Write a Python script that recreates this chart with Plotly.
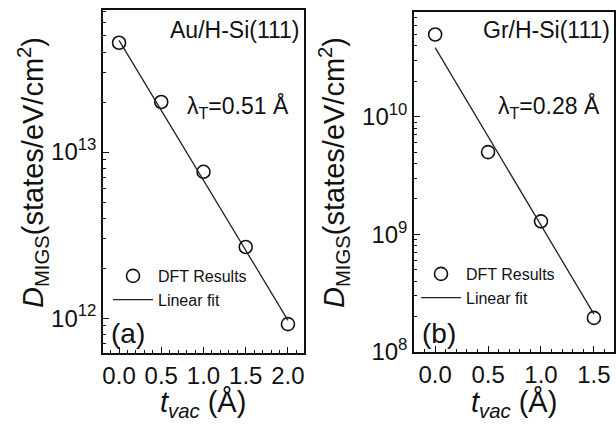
import plotly.graph_objects as go

# ---- data ----
t_au = [0.0, 0.5, 1.0, 1.5, 2.0]
d_au = [4.55e13, 2.0e13, 7.6e12, 2.68e12, 9.2e11]
fit_t_au = [0.0, 2.0]
fit_d_au = [4.7e13, 0.97e12]

t_gr = [0.0, 0.5, 1.0, 1.5]
d_gr = [5.0e10, 5.0e9, 1.29e9, 1.95e8]
fit_t_gr = [0.0, 1.5]
fit_d_gr = [3.87e10, 2.1e8]

xtick_vals_a = [0.0, 0.5, 1.0, 1.5, 2.0]
xtick_text_a = ["0.0", "0.5", "1.0", "1.5", "2.0"]
xtick_vals_b = [0.0, 0.5, 1.0, 1.5]
xtick_text_b = ["0.0", "0.5", "1.0", "1.5"]
ytick_vals_a = [1e12, 1e13]
ytick_text_a = ["10<sup>12</sup>", "10<sup>13</sup>"]
ytick_vals_b = [1e8, 1e9, 1e10]
ytick_text_b = ["10<sup>8</sup>", "10<sup>9</sup>", "10<sup>10</sup>"]

FONT = "Liberation Sans, Arial, sans-serif"
W, H = 616, 431

fig = go.Figure()

marker_style = dict(symbol="circle-open", size=13, color="#111", line=dict(width=1.6, color="#111"))
line_style = dict(color="#222", width=1.3)

fig.add_trace(go.Scatter(x=t_au, y=d_au, mode="markers", marker=marker_style,
                         name="DFT Results", xaxis="x", yaxis="y", legend="legend"))
fig.add_trace(go.Scatter(x=fit_t_au, y=fit_d_au, mode="lines", line=line_style,
                         name="Linear fit", xaxis="x", yaxis="y", legend="legend"))
fig.add_trace(go.Scatter(x=t_gr, y=d_gr, mode="markers", marker=marker_style,
                         name="DFT Results", xaxis="x2", yaxis="y2", legend="legend2"))
fig.add_trace(go.Scatter(x=fit_t_gr, y=fit_d_gr, mode="lines", line=line_style,
                         name="Linear fit", xaxis="x2", yaxis="y2", legend="legend2"))

def px(x):
    return x / W

def py(y):
    return 1 - y / H

axis_common = dict(showline=True, linecolor="#111", linewidth=1.5, mirror=True,
                   showgrid=False, zeroline=False, ticks="inside", ticklen=6,
                   tickwidth=1.3, tickcolor="#111", automargin=False,
                   tickfont=dict(family=FONT, size=24, color="#111"))

fig.update_layout(
    width=W, height=H,
    margin=dict(l=0, r=0, t=0, b=0),
    paper_bgcolor="white", plot_bgcolor="white",
    font=dict(family=FONT, color="#111"),
    xaxis=dict(domain=[px(103), px(304)], range=[-0.19, 2.19], anchor="y",
               tickmode="array", tickvals=xtick_vals_a, ticktext=xtick_text_a,
               minor=dict(ticks="inside", ticklen=3.5, dtick=0.1, tick0=0, tickcolor="#111", tickwidth=1.2),
               **axis_common),
    yaxis=dict(domain=[py(353), py(10)], type="log", range=[11.79, 13.855], anchor="x",
               tickmode="array", tickvals=ytick_vals_a, ticktext=ytick_text_a,
               minor=dict(ticks="inside", ticklen=3.5, dtick="D1", tickcolor="#111", tickwidth=1.2),
               **axis_common),
    xaxis2=dict(domain=[px(414), px(614)], range=[-0.2, 1.69], anchor="y2",
                tickmode="array", tickvals=xtick_vals_b, ticktext=xtick_text_b,
                minor=dict(ticks="inside", ticklen=3.5, dtick=0.1, tick0=0, tickcolor="#111", tickwidth=1.2),
                **axis_common),
    yaxis2=dict(domain=[py(352), py(12)], type="log", range=[8.0, 10.89], anchor="x2",
                tickmode="array", tickvals=ytick_vals_b, ticktext=ytick_text_b,
                minor=dict(ticks="inside", ticklen=3.5, dtick="D1", tickcolor="#111", tickwidth=1.2),
                **axis_common),
    legend=dict(x=px(108), y=py(259), xanchor="left", yanchor="top",
                bgcolor="rgba(0,0,0,0)", borderwidth=0, itemwidth=40, tracegroupgap=0,
                font=dict(family=FONT, size=16, color="#111")),
    legend2=dict(x=px(416), y=py(257), xanchor="left", yanchor="top",
                 bgcolor="rgba(0,0,0,0)", borderwidth=0, itemwidth=40, tracegroupgap=0,
                 font=dict(family=FONT, size=16, color="#111")),
)

ann = []
def A(text, x, y, size, xanchor="center", angle=0):
    ann.append(dict(text=text, x=px(x), y=py(y), xref="paper", yref="paper",
                    xanchor=xanchor, yanchor="middle", showarrow=False, textangle=angle,
                    font=dict(family=FONT, size=size, color="#111")))

A("Au/H-Si(111)", 302, 30, 23, xanchor="right")
A("λ<sub>T</sub>=0.51 Å", 185, 107, 23, xanchor="left")
A("(a)", 128, 333, 28)
A("Gr/H-Si(111)", 612, 30, 23, xanchor="right")
A("λ<sub>T</sub>=0.28 Å", 496, 107, 23, xanchor="left")
A("(b)", 439, 333, 28)
A("<i>t</i><sub><i>vac</i></sub> (Å)", 203, 404, 29)
A("<i>t</i><sub><i>vac</i></sub> (Å)", 514, 404, 29)
A("<i>D</i><sub>MIGS</sub>(states/eV/cm<sup>2</sup>)", 33, 173, 29, angle=-90)
A("<i>D</i><sub>MIGS</sub>(states/eV/cm<sup>2</sup>)", 334, 173, 29, angle=-90)
fig.update_layout(annotations=ann)

page_fix = ("document.documentElement.style.margin='0';document.body.style.margin='0';"
            "document.documentElement.style.overflow='hidden';document.body.style.overflow='hidden';")
fig.write_html("out.html", post_script=page_fix, config={"displayModeBar": False})
